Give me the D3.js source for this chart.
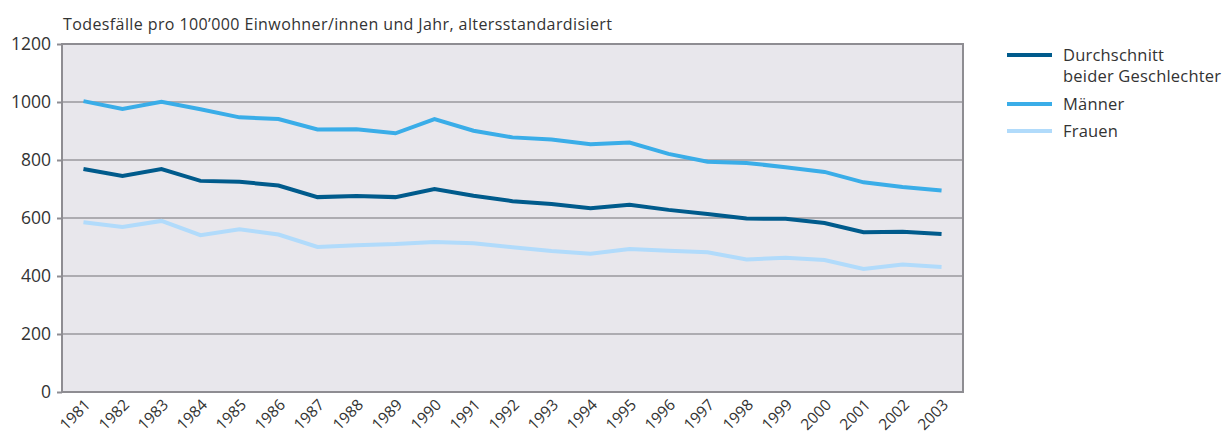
<!DOCTYPE html>
<meta charset="utf-8">
<style>
body { margin: 0; background: #fff; }
text { font-family: "Open Sans", "DejaVu Sans", sans-serif; fill: #333; }
.grid line { stroke: #9a999e; stroke-width: 1.6px; }
</style>
<body>
<svg></svg>
</body>
<script src="https://cdn.jsdelivr.net/npm/d3@7"></script>
<script>

var years = [1981, 1982, 1983, 1984, 1985, 1986, 1987, 1988, 1989, 1990, 1991, 1992,
             1993, 1994, 1995, 1996, 1997, 1998, 1999, 2000, 2001, 2002, 2003];
var average = [769, 745, 769, 728, 725, 712, 672, 676, 672, 700, 677, 658,
               648, 634, 646, 628, 614, 598, 597, 583, 551, 553, 545];
var men = [1003, 976, 1001, 975, 947, 941, 905, 906, 892, 941, 901, 878,
           871, 854, 860, 821, 794, 790, 775, 759, 723, 707, 695];
var women = [585, 569, 590, 541, 561, 543, 500, 506, 510, 517, 513, 499,
             486, 477, 493, 487, 482, 457, 463, 455, 424, 440, 431];
var yTicks = [0, 200, 400, 600, 800, 1000, 1200];

var series = [
  { name: ["Durchschnitt", "beider Geschlechter"], values: average, color: "#005b8c" },
  { name: ["Männer"], values: men, color: "#3aade8" },
  { name: ["Frauen"], values: women, color: "#b1dbfb" }
];

var width = 1227, height = 435;
var svg = d3.select("svg").attr("width", width).attr("height", height);

var plotLeft = 62, plotRight = 963, plotTop = 44, plotBottom = 392;

var x = d3.scalePoint().domain(years).range([plotLeft, plotRight]).padding(0.55);
var y = d3.scaleLinear().domain([0, 1200]).range([plotBottom, plotTop]);

svg.append("rect")
    .attr("x", plotLeft).attr("y", plotTop)
    .attr("width", plotRight - plotLeft).attr("height", plotBottom - plotTop)
    .attr("fill", "#e8e7ec");

// horizontal gridlines
svg.append("g")
    .attr("class", "grid")
  .selectAll("line")
  .data(yTicks.filter(function(d) { return d > 0 && d < 1200; }))
  .enter().append("line")
    .attr("x1", plotLeft).attr("x2", plotRight)
    .attr("y1", function(d) { return y(d); })
    .attr("y2", function(d) { return y(d); });

// frame
svg.append("rect")
    .attr("x", plotLeft).attr("y", plotTop)
    .attr("width", plotRight - plotLeft).attr("height", plotBottom - plotTop)
    .attr("fill", "none")
    .attr("stroke", "#8e8d92")
    .attr("stroke-width", 2);

// y axis
var yAxis = svg.append("g")
    .attr("transform", "translate(" + plotLeft + ",0)")
    .call(d3.axisLeft(y).tickValues(yTicks).tickFormat(d3.format("d")).tickSize(5).tickPadding(6));
yAxis.select(".domain").remove();
yAxis.selectAll(".tick line").attr("stroke", "#8e8d92").attr("stroke-width", 2);
yAxis.selectAll("text")
    .attr("font-size", 17.5)
    .attr("fill", "#333")
    .style("font-family", "'Open Sans', sans-serif");

// x axis labels
svg.append("g")
  .selectAll("text")
  .data(years)
  .enter().append("text")
    .attr("transform", function(d) { return "translate(" + (x(d) + 4) + ",402) rotate(-45)"; })
    .attr("text-anchor", "end")
    .attr("dy", "0.35em")
    .attr("font-size", 15.5)
    .text(function(d) { return d; });

// lines
var line = d3.line()
    .x(function(d, i) { return x(years[i]); })
    .y(function(d) { return y(d); });

svg.append("g")
  .selectAll("path")
  .data(series.slice().reverse())
  .enter().append("path")
    .attr("d", function(d) { return line(d.values); })
    .attr("fill", "none")
    .attr("stroke", function(d) { return d.color; })
    .attr("stroke-width", 4)
    .attr("stroke-linejoin", "miter");

// title
svg.append("text")
    .attr("x", 63).attr("y", 30)
    .attr("font-size", 16)
    .attr("letter-spacing", 0.4)
    .text("Todesfälle pro 100’000 Einwohner/innen und Jahr, altersstandardisiert");

// legend
var legendY = [55, 104, 131];
var legend = svg.append("g")
  .selectAll("g")
  .data(series)
  .enter().append("g")
    .attr("transform", function(d, i) { return "translate(1007," + legendY[i] + ")"; });

legend.append("line")
    .attr("x1", 0).attr("x2", 45)
    .attr("stroke", function(d) { return d.color; })
    .attr("stroke-width", 4);

legend.append("text")
    .attr("x", 56)
    .attr("font-size", 16.5)
    .attr("letter-spacing", 0.2)
  .selectAll("tspan")
  .data(function(d) { return d.name; })
  .enter().append("tspan")
    .attr("x", 56)
    .attr("dy", function(d, i) { return i === 0 ? "0.35em" : "1.3em"; })
    .text(function(d) { return d; });

</script>
